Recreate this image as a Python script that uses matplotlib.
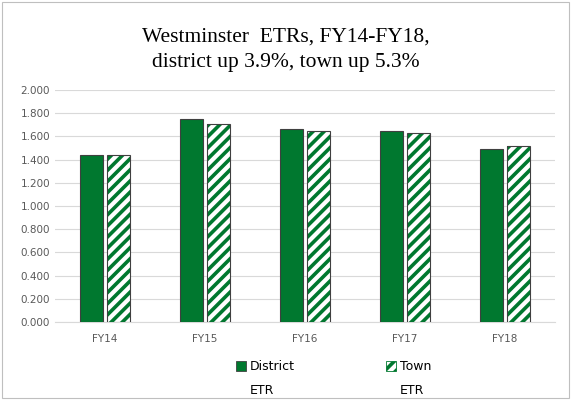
import numpy as np
import matplotlib.pyplot as plt
from matplotlib.patches import Patch, Rectangle

years = ["FY14", "FY15", "FY16", "FY17", "FY18"]
district = [1.44, 1.75, 1.665, 1.65, 1.495]
town = [1.442, 1.71, 1.645, 1.63, 1.518]

green = "#00782f"
plt.rcParams['hatch.linewidth'] = 2.6

fig = plt.figure(figsize=(5.71, 4), dpi=100)
fig.patches.append(Rectangle((0.003, 0.004), 0.994, 0.992, transform=fig.transFigure,
                             fill=False, edgecolor="#bfbfbf", linewidth=0.8))

ax = fig.add_axes([0.096, 0.195, 0.876, 0.58])

x = np.arange(len(years))
w = 0.23
off = 0.135

ax.bar(x - off, district, w, color=green, edgecolor="#404040", linewidth=0.8, zorder=3)
ax.bar(x + off, town, w, color="white", edgecolor=green, hatch="///", linewidth=0, zorder=3)
ax.bar(x + off, town, w, fill=False, edgecolor="#404040", linewidth=0.8, zorder=4)

ax.set_xlim(-0.5, 4.5)
ax.set_ylim(0, 2.0)
ax.set_yticks(np.arange(0, 2.01, 0.2))
ax.set_yticklabels([f"{v:.3f}" for v in np.arange(0, 2.01, 0.2)])
ax.set_xticks(x)
ax.set_xticklabels(years)
ax.tick_params(length=0, labelsize=7.5, colors="#595959")
ax.tick_params(axis="x", pad=9)
ax.grid(axis="y", color="#d9d9d9", linewidth=0.8, zorder=0)
for s in ["top", "right", "left"]:
    ax.spines[s].set_visible(False)
ax.spines["bottom"].set_color("#d9d9d9")

fig.suptitle("Westminster  ETRs, FY14-FY18,\ndistrict up 3.9%, town up 5.3%",
             family="Liberation Serif", fontsize=15.5, y=0.932, linespacing=1.45)

handles = [Patch(facecolor=green, edgecolor="#404040", linewidth=0.6),
           Patch(facecolor="white", edgecolor=green, hatch="///", linewidth=0.6)]
leg = fig.legend(handles, ["District", "Town"], loc="center", ncol=2,
                 bbox_to_anchor=(0.585, 0.083), frameon=False, fontsize=9,
                 handlelength=0.8, handleheight=0.8, columnspacing=7.3,
                 handletextpad=0.3)

# second line of each label
fig.canvas.draw()
inv = fig.transFigure.inverted()
for t in leg.get_texts():
    bb = t.get_window_extent()
    x0, y0 = inv.transform((bb.x0, bb.y0))
    fig.text(x0, 0.025, "ETR", fontsize=9, ha="left", va="center")

fig.savefig("out.png", dpi=100)
